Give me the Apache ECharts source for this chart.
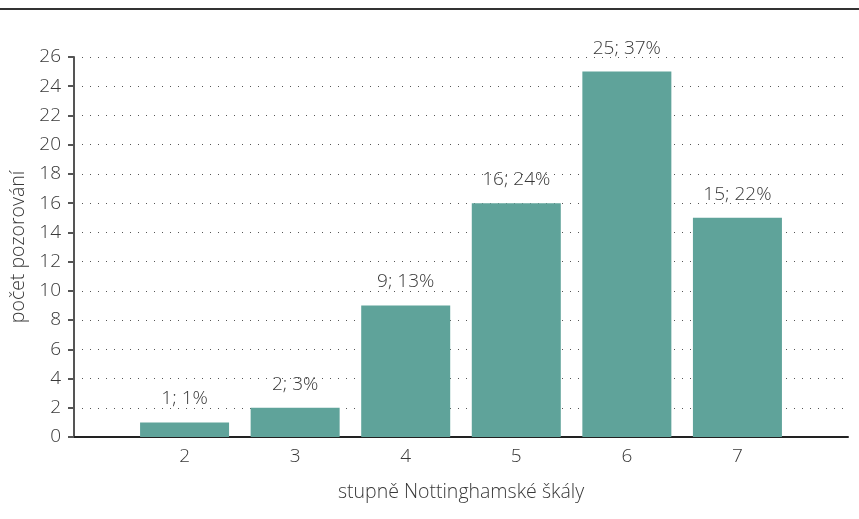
<!DOCTYPE html>
<html>
<head>
<meta charset="utf-8">
<script src="https://cdn.jsdelivr.net/npm/echarts@6/dist/echarts.min.js"></script>
<style>
  html, body { margin: 0; padding: 0; background: #fff; }
  #chart { width: 859px; height: 519px; }
</style>
</head>
<body>
<div id="chart"></div>
<script>
const grades = [2, 3, 4, 5, 6, 7]
const counts = [1, 2, 9, 16, 25, 15]
const percents = [1, 3, 13, 24, 37, 22]

const FONT = "'Open Sans', 'Noto Sans', sans-serif"
const TEXT = "#383838"

const chart = echarts.init(document.getElementById("chart"))

chart.setOption({
  animation: false,
  textStyle: { fontFamily: FONT },
  graphic: [
    {
      type: "rect",
      shape: { x: 0, y: 8, width: 859, height: 2 },
      style: { fill: "#333" }
    }
  ],
  grid: { left: 71, right: 11, top: 57, bottom: 82 },
  xAxis: {
    type: "value",
    min: 1,
    max: 8,
    interval: 1,
    name: "stupně Nottinghamské škály",
    nameLocation: "middle",
    nameGap: 45,
    nameTextStyle: { color: TEXT, fontSize: 19.5, fontWeight: 300, fontFamily: FONT },
    axisLine: { show: true, lineStyle: { color: "#222", width: 2 } },
    axisTick: { show: false },
    splitLine: { show: false },
    axisLabel: {
      color: TEXT,
      fontSize: 19,
      fontWeight: 300,
      margin: 10,
      formatter: (v) => (grades.includes(v) ? String(v) : "")
    }
  },
  yAxis: {
    type: "value",
    min: 0,
    max: 26,
    interval: 2,
    name: "počet pozorování",
    nameLocation: "middle",
    nameGap: 46,
    nameTextStyle: { color: TEXT, fontSize: 19.5, fontWeight: 300, fontFamily: FONT },
    axisLine: { show: true, lineStyle: { color: "#555", width: 2 } },
    axisTick: { show: true, length: 6, lineStyle: { color: "#555", width: 2 } },
    axisLabel: { color: TEXT, fontSize: 19, fontWeight: 300, margin: 13 },
    splitLine: {
      show: true,
      lineStyle: { color: "#555", width: 1, type: [1, 7] }
    }
  },
  series: [
    {
      type: "bar",
      barWidth: 89,
      itemStyle: { color: "#5fa39a" },
      data: grades.map((g, i) => [g, counts[i]]),
      label: {
        show: true,
        position: "top",
        distance: 14,
        color: TEXT,
        fontSize: 19,
        fontWeight: 300,
        fontFamily: FONT,
        formatter: (p) => counts[p.dataIndex] + "; " + percents[p.dataIndex] + "%"
      }
    }
  ]
})
</script>
</body>
</html>
